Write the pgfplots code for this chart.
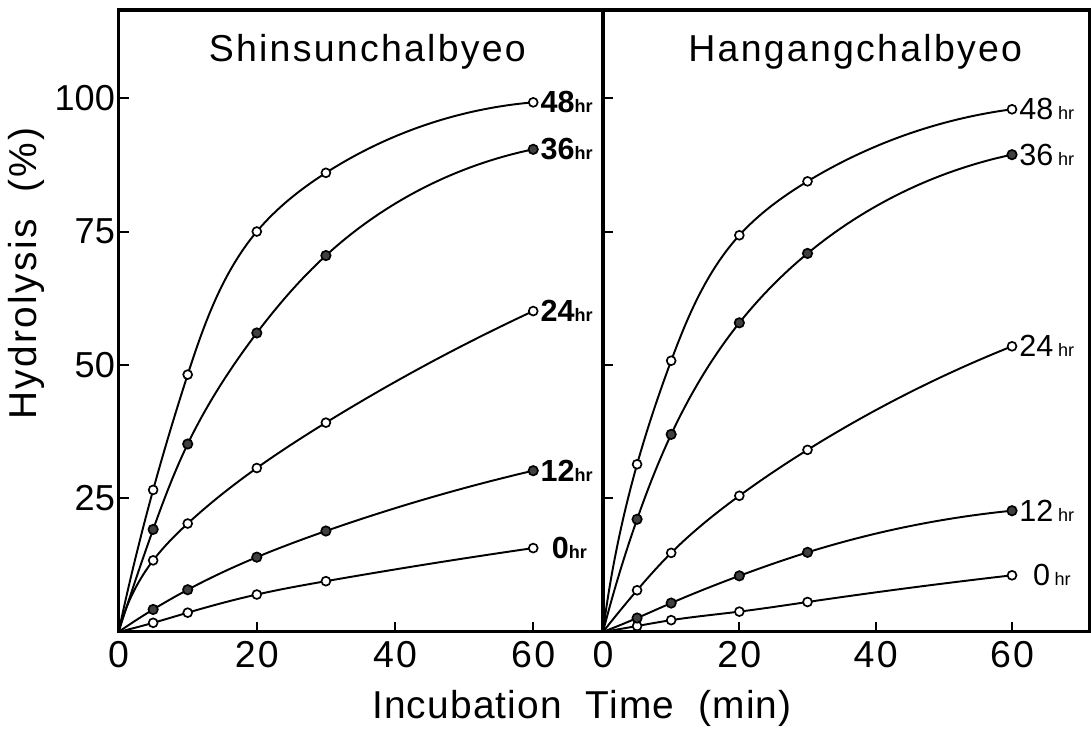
\documentclass[border=0pt]{standalone}
\usepackage{pgfplots}
\pgfplotsset{compat=1.18}
\usetikzlibrary{hobby}
\usepackage{fontspec}
\setmainfont{Liberation Sans}
\newfontfamily\spaced[LetterSpace=6]{Liberation Sans}
\newfontfamily\spacedx[LetterSpace=3]{Liberation Sans}
\newfontfamily\spacedt[LetterSpace=6]{Liberation Sans}

% hr labels at the ends of the curves
\newcommand\labB[1]{{\fontsize{11}{13}\selectfont\bfseries #1}{\fontsize{6.5}{8}\selectfont\bfseries hr}}
\newcommand\labR[1]{{\fontsize{11}{13}\selectfont #1}\,{\fontsize{6.5}{8}\selectfont hr}}

\pgfplotsset{
  panel/.style={
    scale only axis, height=223.9pt,
    xmin=0, ymin=0, ymax=116.5,
    axis line style={line width=1.1pt},
    tick align=inside, tick pos=left, major tick length=3.6pt,
    tick style={line width=0.7pt, black},
    xtick={0,20,40,60}, ytick={25,50,75,100},
    /pgf/number format/assume math mode=true,
    xticklabel style={font=\spacedt\fontsize{13.5}{15}\selectfont},
    yticklabel style={font=\fontsize{13}{15}\selectfont, xshift=2.2pt},
    every axis plot/.append style={line width=0.7pt, black, hobby},
    clip=false,
  },
  open/.style={mark=*, mark indices={2,3,4,5,6}, mark size=1.6pt,
    mark options={fill=white, line width=0.6pt}},
  full/.style={mark=*, mark indices={2,3,4,5,6}, mark size=1.7pt,
    mark options={fill=black!75, line width=0.6pt}},
}

\begin{document}
\begin{tikzpicture}
% Shinsunchalbyeo
\begin{axis}[panel, name=left, width=174.4pt, xmax=70.1]
  \addplot[open] coordinates {(0,0)(5,1.7)(10,3.6)(20,7.0)(30,9.5)(60,15.7)};
  \addplot[full] coordinates {(0,0)(5,4.2)(10,7.9)(20,14.0)(30,18.9)(60,30.2)};
  \addplot[open] coordinates {(0,0)(5,13.4)(10,20.3)(20,30.7)(30,39.2)(60,60.1)};
  \addplot[full] coordinates {(0,0)(5,19.2)(10,35.2)(20,56.0)(30,70.5)(60,90.4)};
  \addplot[open] coordinates {(0,0)(5,26.6)(10,48.2)(20,75.0)(30,86.0)(60,99.2)};
  \node[anchor=west, inner sep=1pt] at (axis cs:60.6,99.2) {\labB{48}};
  \node[anchor=west, inner sep=1pt] at (axis cs:60.6,90.4) {\labB{36}};
  \node[anchor=west, inner sep=1pt] at (axis cs:60.6,60.1) {\labB{24}};
  \node[anchor=west, inner sep=1pt] at (axis cs:60.6,30.2) {\labB{12}};
  \node[anchor=west, inner sep=1pt] at (axis cs:62.2,15.7) {\labB{0}};
  \node[font=\spaced\fontsize{13.5}{16}\selectfont] at (axis cs:36,108.7) {Shinsunchalbyeo};
\end{axis}
% Hangangchalbyeo
\begin{axis}[panel, at={(174.4pt,0pt)}, width=175pt, xmax=71.3, yticklabels={}]
  \addplot[open] coordinates {(0,0)(5,1.1)(10,2.2)(20,3.8)(30,5.6)(60,10.6)};
  \addplot[full] coordinates {(0,0)(5,2.6)(10,5.4)(20,10.5)(30,14.9)(60,22.7)};
  \addplot[open] coordinates {(0,0)(5,7.8)(10,14.8)(20,25.5)(30,34.1)(60,53.5)};
  \addplot[full] coordinates {(0,0)(5,21.1)(10,37.0)(20,57.9)(30,70.9)(60,89.4)};
  \addplot[open] coordinates {(0,0)(5,31.4)(10,50.8)(20,74.3)(30,84.4)(60,97.9)};
  \node[anchor=west, inner sep=1pt] at (axis cs:60.6,97.9) {\labR{48}};
  \node[anchor=west, inner sep=1pt] at (axis cs:60.6,89.4) {\labR{36}};
  \node[anchor=west, inner sep=1pt] at (axis cs:60.6,53.5) {\labR{24}};
  \node[anchor=west, inner sep=1pt] at (axis cs:60.6,22.7) {\labR{12}};
  \node[anchor=west, inner sep=1pt] at (axis cs:62.6,10.6) {\labR{0}};
  \node[font=\spaced\fontsize{13.5}{16}\selectfont] at (axis cs:37,108.7) {Hangangchalbyeo};
\end{axis}
\node[font=\spacedx\fontsize{14}{17}\selectfont] at (166.8pt,-27.4pt) {Incubation\ \ Time\ \ (min)};
\node[rotate=90, font=\spaced\fontsize{14}{17}\selectfont] at (-33pt,129pt) {Hydrolysis\ \ (\%)};
\pgfresetboundingbox
\path (-42.7pt,-36pt) rectangle (350.1pt,227.5pt);
\end{tikzpicture}
\end{document}
